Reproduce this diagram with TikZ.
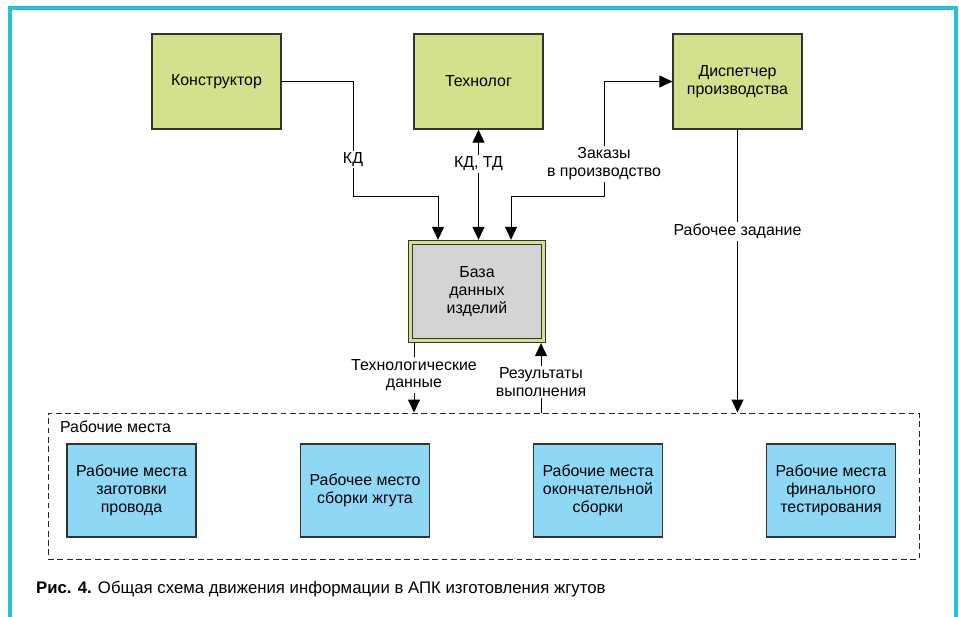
\documentclass[tikz,border=0pt]{standalone}
\usepackage{fontspec}
\setmainfont{Liberation Sans}
\usetikzlibrary{arrows.meta}
\definecolor{framecyan}{RGB}{38,194,211}
\definecolor{rolegreen}{RGB}{212,224,139}
\definecolor{workblue}{RGB}{142,216,246}
\definecolor{storegray}{RGB}{212,212,214}
\tikzset{
  box/.style={draw=black!80,line width=1.1pt,minimum width=3.87cm,minimum height=2.85cm,
    align=center,font=\fontsize{13.6}{15.3}\selectfont},
  rolebox/.style={box,fill=rolegreen},
  workbox/.style={box,fill=workblue,minimum height=2.79cm},
  storebox/.style={box,fill=storegray,draw=black!80,line width=0.7pt,double=rolegreen,
    double distance=0.11cm,minimum width=3.99cm,minimum height=2.94cm,outer sep=0.08cm},
  groupbox/.style={draw=black!85,dash pattern=on 5pt off 3pt,line width=0.8pt,
    minimum width=26.13cm,minimum height=4.38cm},
  lbl/.style={fill=white,inner sep=1.5pt,align=center,font=\fontsize{13.6}{15.3}\selectfont},
  flow/.style={line width=0.85pt}
}
\begin{document}
\begin{tikzpicture}[x=0.03cm,y=-0.03cm,>={Triangle[length=0.39cm,width=0.36cm]}]
\useasboundingbox (0,0) rectangle (959,616);
\draw[framecyan,line width=2.6pt] (10,640) -- (10,8) -- (956,8) -- (956,640);
\node[rolebox] (konstr) at (216.5,81.5) {Конструктор};
\node[rolebox] (tehn) at (478.5,81.5) {Технолог};
\node[rolebox] (disp) at (737.5,81.5) {Диспетчер\\производства};
\node[storebox] (baza) at (477,291.5) {База\\данных\\изделий};
\node[groupbox] (rab) at (483.5,486) {};
\node[anchor=base west,font=\fontsize{13.6}{15.3}\selectfont] (rablbl) at (56,432) {Рабочие места};
\node[workbox] (zag) at (131.5,490.5) {Рабочие места\\заготовки\\провода};
\node[workbox] (sbor) at (365,490.5) {Рабочее место\\сборки жгута};
\node[workbox] (okon) at (598,490.5) {Рабочие места\\окончательной\\сборки};
\node[workbox] (test) at (831,490.5) {Рабочие места\\финального\\тестирования};
\coordinate (kdbend) at (353,196);
\coordinate (kdin) at (438,0);
\coordinate (zkbend) at (604,196);
\coordinate (zkin) at (511,0);
\coordinate (tdx) at (414,0);
\coordinate (rvx) at (541,0);
\draw[flow,->] (konstr.east) -| node[lbl,pos=0.84]{КД} (kdbend) -| (kdin |- baza.north);
\draw[flow,<->] (baza.north -| tehn.south) -- node[lbl,pos=0.69]{КД, ТД} (tehn.south);
\draw[flow,<->] (zkin |- baza.north) |- (zkbend) |- node[lbl,pos=0.14]{Заказы\\в производство} (disp.west);
\draw[flow,->] (disp.south) -- node[lbl,pos=0.36]{Рабочее задание} (disp.south |- rab.north);
\draw[flow,->] (baza.south -| tdx) -- node[lbl,pos=0.46]{Технологические\\данные} (tdx |- rab.north);
\draw[flow,->] (rvx |- rab.north) -- node[lbl,pos=0.44]{Результаты\\выполнения} (baza.south -| rvx);
\node[anchor=base west,font=\fontsize{14.3}{17}\selectfont] (caption) at (32,593)
  {\textbf{Рис. 4.} Общая схема движения информации в АПК изготовления жгутов};
\end{tikzpicture}
\end{document}
